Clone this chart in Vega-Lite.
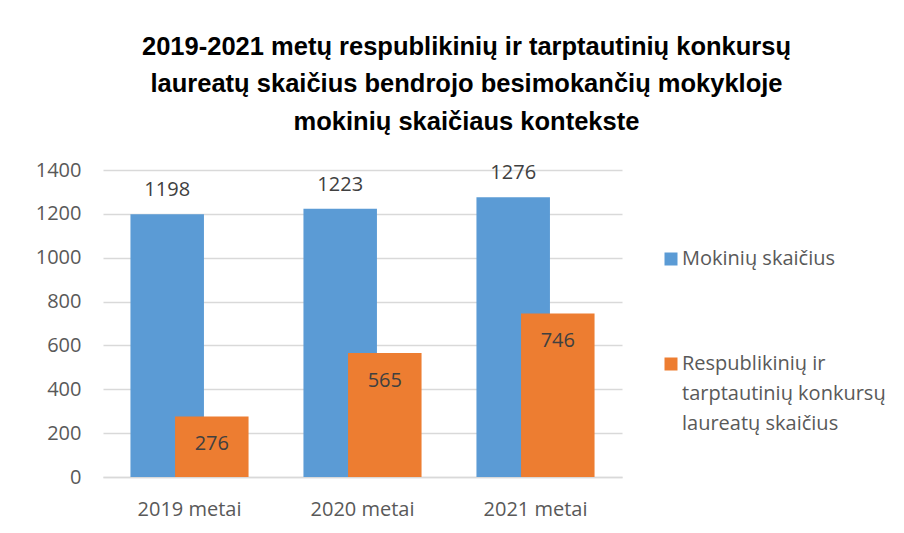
{
  "$schema": "https://vega.github.io/schema/vega-lite/v6.json",
  "autosize": {"type": "none"},
  "padding": {"left": 103, "top": 170, "right": 282, "bottom": 56},
  "width": 519,
  "height": 307,
  "background": "white",
  "title": {
    "text": ["2019-2021 metų respublikinių ir tarptautinių konkursų", "laureatų skaičius bendrojo besimokančių mokykloje", "mokinių skaičiaus kontekste"],
    "font": "Liberation Sans",
    "fontSize": 25.5,
    "fontWeight": "bold",
    "color": "#000000",
    "lineHeight": 37.5,
    "anchor": "middle",
    "dx": 104,
    "offset": 25
  },
  "data": {
    "values": [
      {"year": "2019 metai", "series": "Mokinių skaičius", "value": 1198},
      {"year": "2020 metai", "series": "Mokinių skaičius", "value": 1223},
      {"year": "2021 metai", "series": "Mokinių skaičius", "value": 1276},
      {"year": "2019 metai", "series": "Respublikinių ir tarptautinių konkursų laureatų skaičius", "value": 276},
      {"year": "2020 metai", "series": "Respublikinių ir tarptautinių konkursų laureatų skaičius", "value": 565},
      {"year": "2021 metai", "series": "Respublikinių ir tarptautinių konkursų laureatų skaičius", "value": 746}
    ]
  },
  "encoding": {
    "x": {
      "field": "year", "type": "nominal", "title": null,
      "scale": {"paddingInner": 0, "paddingOuter": 0},
      "axis": {"labelAngle": 0, "labelFont": "Open Sans", "labelFontSize": 20, "labelColor": "#595959", "labelPadding": 22, "ticks": false, "domain": true, "domainColor": "#d9d9d9", "domainWidth": 1.5, "grid": false}
    },
    "y": {
      "field": "value", "type": "quantitative", "title": null,
      "scale": {"domain": [0, 1400], "nice": false},
      "axis": {"values": [0, 200, 400, 600, 800, 1000, 1200, 1400], "format": "d", "labelFont": "Open Sans", "labelFontSize": 20, "labelColor": "#595959", "labelPadding": 22, "ticks": false, "domain": false, "grid": true, "gridColor": "#d9d9d9", "gridWidth": 1.5}
    },
    "color": {
      "field": "series", "type": "nominal",
      "scale": {"domain": ["Mokinių skaičius", "Respublikinių ir tarptautinių konkursų laureatų skaičius"], "range": ["#5B9BD5", "#ED7D31"]},
      "legend": {
        "title": null,
        "orient": "none",
        "legendX": 558,
        "legendY": 79,
        "symbolType": "square",
        "symbolSize": 169,
        "symbolStrokeWidth": 0,
        "labelFont": "Open Sans",
        "labelFontSize": 20,
        "labelColor": "#595959",
        "labelLimit": 0,
        "labelOffset": 1,
        "labelExpr": "datum.label == 'Mokinių skaičius' ? datum.label : ['Respublikinių ir', 'tarptautinių konkursų', 'laureatų skaičius']",
        "rowPadding": 85,
        "encode": {"labels": {"update": {"lineHeight": {"value": 30}}}}
      }
    }
  },
  "layer": [
    {
      "transform": [{"filter": "datum.series == 'Mokinių skaičius'"}],
      "layer": [
        {"mark": {"type": "bar", "width": 73.5, "xOffset": -22.3}},
        {"mark": {"type": "text", "xOffset": -22.3, "dy": -18, "baseline": "alphabetic", "font": "Open Sans", "fontSize": 20, "color": "#404040"},
         "encoding": {"text": {"field": "value", "type": "quantitative"}, "color": {"value": "#404040"}}}
      ]
    },
    {
      "transform": [{"filter": "datum.series != 'Mokinių skaičius'"}],
      "layer": [
        {"mark": {"type": "bar", "width": 73.5, "xOffset": 22.3}},
        {"mark": {"type": "text", "xOffset": 22.3, "dy": 27.5, "baseline": "middle", "font": "Open Sans", "fontSize": 20, "color": "#404040"},
         "encoding": {"text": {"field": "value", "type": "quantitative"}, "color": {"value": "#404040"}}}
      ]
    }
  ],
  "config": {"view": {"stroke": null}}
}
